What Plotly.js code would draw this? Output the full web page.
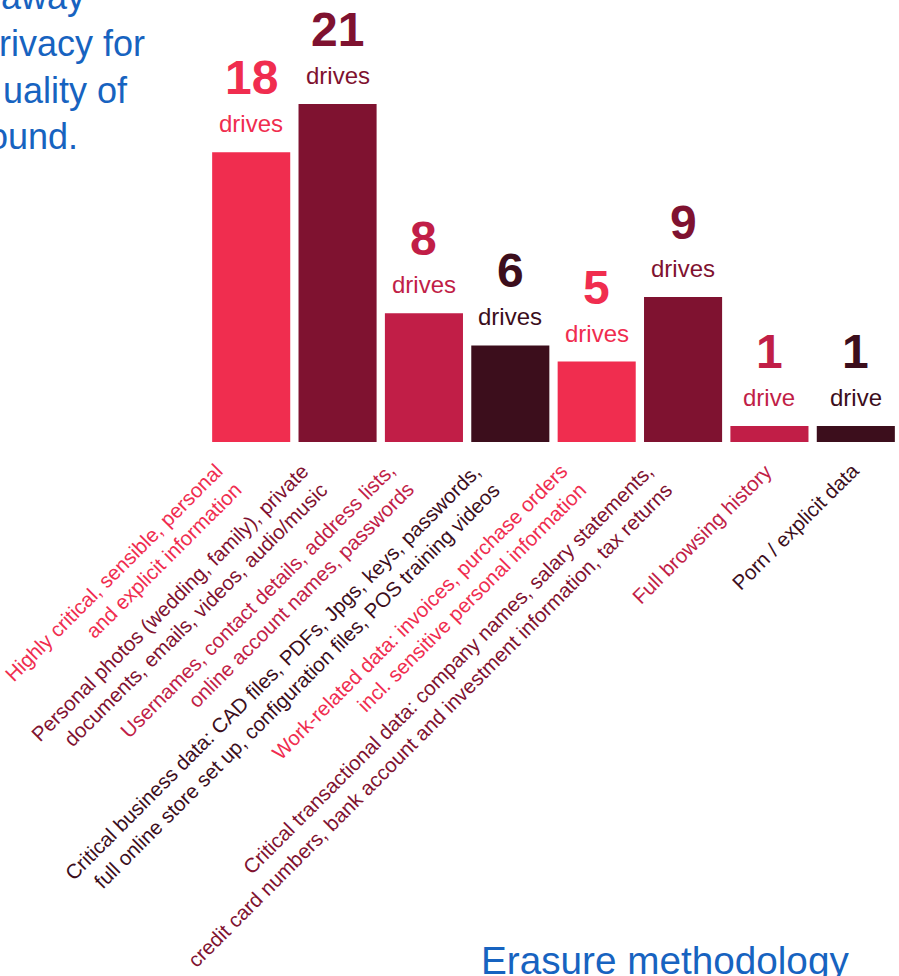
<!DOCTYPE html>
<html><head><meta charset="utf-8">
<script src="https://cdn.plot.ly/plotly-3.0.1.min.js"></script>
<style>html,body{margin:0;padding:0;background:#fff;overflow:hidden}#chart{width:899px;height:976px}</style>
</head><body><div id="chart"></div>
<script>
// ---- data ----
const categories = [
  'Highly critical, sensible, personal<br>and explicit information',
  'Personal photos (wedding, family), private<br>documents, emails, videos, audio/music',
  'Usernames, contact details, address lists,<br>online account names, passwords',
  'Critical business data: CAD files, PDFs, Jpgs, keys, passwords,<br>full online store set up, configuration files, POS training videos',
  'Work-related data: invoices, purchase orders<br>incl. sensitive personal information',
  'Critical transactional data: company names, salary statements,<br>credit card numbers, bank account and investment information, tax returns',
  'Full browsing history',
  'Porn / explicit data'
];
const drives = [18, 21, 8, 6, 5, 9, 1, 1];
const barColors = ['#F02D4F', '#7F1230', '#C11E47', '#3C0E1C', '#F02D4F', '#7F1230', '#C11E47', '#3C0E1C'];
const introLines = ['away', 'rivacy for', 'uality of', 'ound.'];
const footerTitle = 'Erasure methodology';

// ---- layout helpers ----
const W = 899, H = 976;
const M = {l: 208, r: 0, t: 0, b: 534};
const PW = W - M.l - M.r, PH = H - M.t - M.b;
const px2x = px => (px - M.l) / PW;
const py2y = py => 1 - (py - M.t) / PH;
const FONT = 'Liberation Sans, Arial, Helvetica, sans-serif';
const BLUE = '#1763C0';

const annotations = [];

// value labels
categories.forEach((c, i) => {
  annotations.push({
    x: c, y: drives[i], xref: 'x', yref: 'y', text: '<b>' + drives[i] + '</b>',
    showarrow: false, xanchor: 'center', yanchor: 'bottom', yshift: 46,
    font: {family: FONT, size: 48, color: barColors[i]}
  });
  annotations.push({
    x: c, y: drives[i], xref: 'x', yref: 'y', text: drives[i] === 1 ? 'drive' : 'drives',
    showarrow: false, xanchor: 'center', yanchor: 'bottom', yshift: 13,
    font: {family: FONT, size: 24, color: barColors[i]}
  });
  const multi = c.indexOf('<br>') >= 0;
  annotations.push({
    x: c, y: 0, xref: 'x', yref: 'y', text: c, textangle: -45, align: 'right',
    showarrow: false, xanchor: 'right', yanchor: 'top',
    xshift: multi ? -3 : 10, yshift: -14,
    font: {family: FONT, size: 20.5, color: barColors[i]}
  });
});

// intro paragraph fragment (cropped at the left edge)
const introRight = [85, 145, 128, 78];
const introBase = [10, 57, 104, 150];
introLines.forEach((t, i) => {
  annotations.push({
    x: px2x(introRight[i] + 2), y: py2y(introBase[i] + 9), xref: 'paper', yref: 'paper',
    text: t, showarrow: false, xanchor: 'right', yanchor: 'bottom',
    font: {family: FONT, size: 36, color: BLUE}
  });
});

// footer heading (cropped at bottom)
annotations.push({
  x: px2x(479), y: py2y(984), xref: 'paper', yref: 'paper',
  text: footerTitle, showarrow: false, xanchor: 'left', yanchor: 'bottom',
  font: {family: FONT, size: 38.7, color: BLUE}
});

const trace = {
  type: 'bar', x: categories, y: drives,
  marker: {color: barColors, line: {width: 0}},
  hoverinfo: 'none', textposition: 'none'
};

const layout = {
  width: W, height: H, margin: M,
  paper_bgcolor: '#ffffff', plot_bgcolor: '#ffffff',
  showlegend: false, bargap: 0.096,
  font: {family: FONT},
  xaxis: {type: 'category', range: [-0.5, 7.5], showticklabels: false, ticks: '',
          showgrid: false, zeroline: false, showline: false, fixedrange: true},
  yaxis: {range: [0, PH / 16.1], visible: false, showgrid: false, zeroline: false, fixedrange: true},
  annotations: annotations
};

Plotly.newPlot('chart', [trace], layout, {staticPlot: true, displayModeBar: false});
</script>
</body></html>
